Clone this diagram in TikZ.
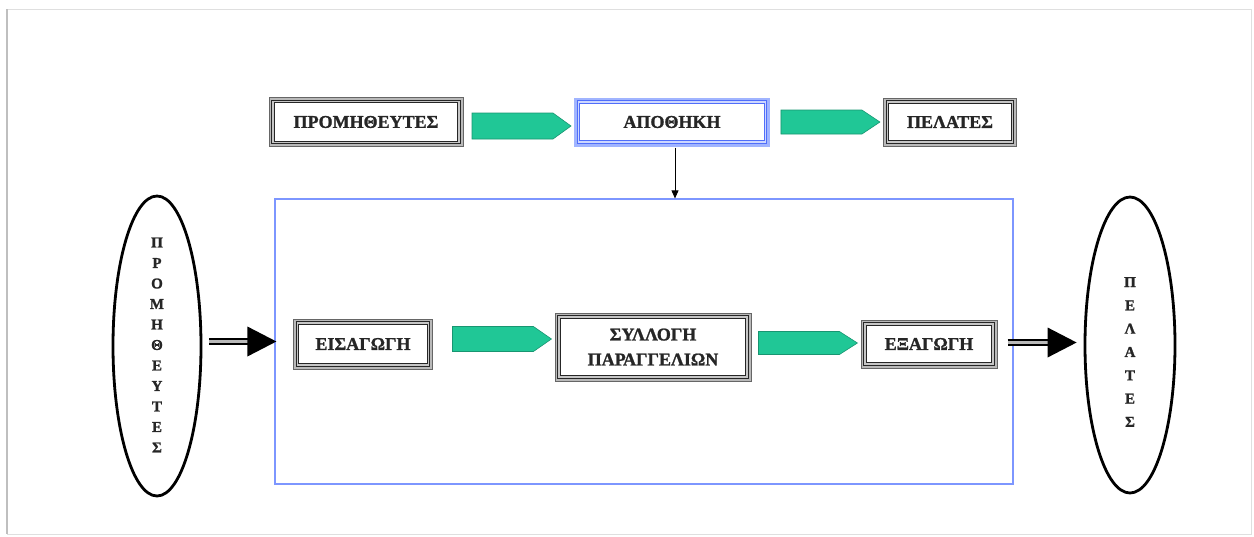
\documentclass[tikz,border=0pt]{standalone}
\usepackage{fontspec}
\setmainfont{Liberation Serif}[BoldFeatures={FakeBold=1.2}]
\usetikzlibrary{calc,arrows.meta,shapes.geometric}
\definecolor{tealg}{RGB}{32,199,150}
\definecolor{frameblue}{RGB}{125,150,255}
\definecolor{bluelight}{RGB}{160,180,255}
\definecolor{bluedark}{RGB}{80,110,250}
\definecolor{bluepale}{RGB}{205,215,255}
\begin{document}
\begin{tikzpicture}[x=1pt,y=-1pt,
  tbox/.style={rectangle, fill=white, draw=black!85, line width=1.1pt, double=gray!45, double distance=1.3pt,
     preaction={draw=black!60, line width=9pt}, preaction={draw=gray!55, line width=7pt},
     font=\bfseries\fontsize{18}{25}\selectfont, text=black!85, inner sep=0pt, align=center},
  bbox/.style={rectangle, fill=white, draw=bluedark, line width=1pt, double=bluepale, double distance=1.3pt,
     preaction={draw=bluelight, line width=9pt},
     font=\bfseries\fontsize{18}{25}\selectfont, text=black!85, inner sep=0pt},
  garrow/.style={fill=tealg, draw=tealg!75!black, line width=0.6pt},
  oval/.style={ellipse, draw=black, line width=2.8pt, inner sep=0pt},
  vtext/.style={font=\bfseries\fontsize{15}{#1}\selectfont, text=black!85, align=center, inner sep=0pt},
  shaft/.style={draw=black, line width=1.7pt, double=gray!55, double distance=2.8pt}
]
\useasboundingbox (0,0) rectangle (1254,536);
% faint page frame
\draw[gray!25, line width=1pt] (7,9) rectangle (1251,534);
\draw[gray!50, line width=1.5pt] (7,9) -- (7,534);

% top row
\node[tbox, minimum width=186pt, minimum height=41pt] (prom) at (366,122) {ΠΡΟΜΗΘΕΥΤΕΣ};
\node[bbox, minimum width=187pt, minimum height=40pt] (apo) at (672,122) {ΑΠΟΘΗΚΗ};
\node[tbox, minimum width=125pt, minimum height=40pt] (pel) at (950,122) {ΠΕΛΑΤΕΣ};

% big frame
\node[draw=frameblue, line width=1.2pt, rectangle, inner sep=0pt, minimum width=738pt, minimum height=285pt] (frame) at (644,341.5) {};

% inner row
\node[tbox, minimum width=131pt, minimum height=42pt] (eis) at (363,344) {ΕΙΣΑΓΩΓΗ};
\node[tbox, minimum width=188pt, minimum height=60pt] (syl) at (653,347) {ΣΥΛΛΟΓΗ\\ΠΑΡΑΓΓΕΛΙΩΝ};
\node[tbox, minimum width=128pt, minimum height=40pt] (exa) at (929,344) {ΕΞΑΓΩΓΗ};

% ellipses
\node[oval, minimum width=88pt, minimum height=300pt] (lell) at (157,346) {};
\node[vtext=20.5] (ltext) at (157,345) {Π\\Ρ\\Ο\\Μ\\Η\\Θ\\Ε\\Υ\\Τ\\Ε\\Σ};
\node[oval, minimum width=90pt, minimum height=296pt] (rell) at (1130,345) {};
\node[vtext=23.3] (rtext) at (1130,352) {Π\\Ε\\Λ\\Α\\Τ\\Ε\\Σ};

% green block arrows
\newcommand{\garr}[4]{%
  \filldraw[garrow] ($(#1.west)+(-106,#2-#3)$) -- ($(#1.west)+(-25,#2-#3)$) -- ($(#1.west)+(-7,#2)$)
     -- ($(#1.west)+(-25,#2+#3)$) -- ($(#1.west)+(-106,#2+#3)$) -- cycle; %#4
}
\garr{apo}{4}{13}{prom}
\garr{pel}{0}{12}{apo}
\garr{syl}{-8}{12.5}{eis}
\garr{exa}{-1}{11.5}{syl}

% thin arrow from warehouse to frame
\coordinate (ta) at ($(apo.south)+(3,5)$);
\draw[line width=0.8pt, -{Triangle[length=8pt,width=7pt]}] (ta) -- (ta |- frame.north);

% thick arrows
\coordinate (la) at ($(lell.east |- frame.west)+(7,0)$);
\draw[shaft] (la) -- ($(frame.west)+(-26,0)$);
\fill[black] ($(frame.west)+(2,0)$) -- ++(-29,-15) -- ++(0,30) -- cycle;

\coordinate (ra) at ($(frame.east)+(-6,1)$);
\coordinate (rb) at ($(rell.west |- ra)+(-7,0)$);
\draw[shaft] (ra) -- ($(rb)+(-27,0)$);
\fill[black] (rb) -- ++(-29,-15) -- ++(0,30) -- cycle;
\end{tikzpicture}
\end{document}
